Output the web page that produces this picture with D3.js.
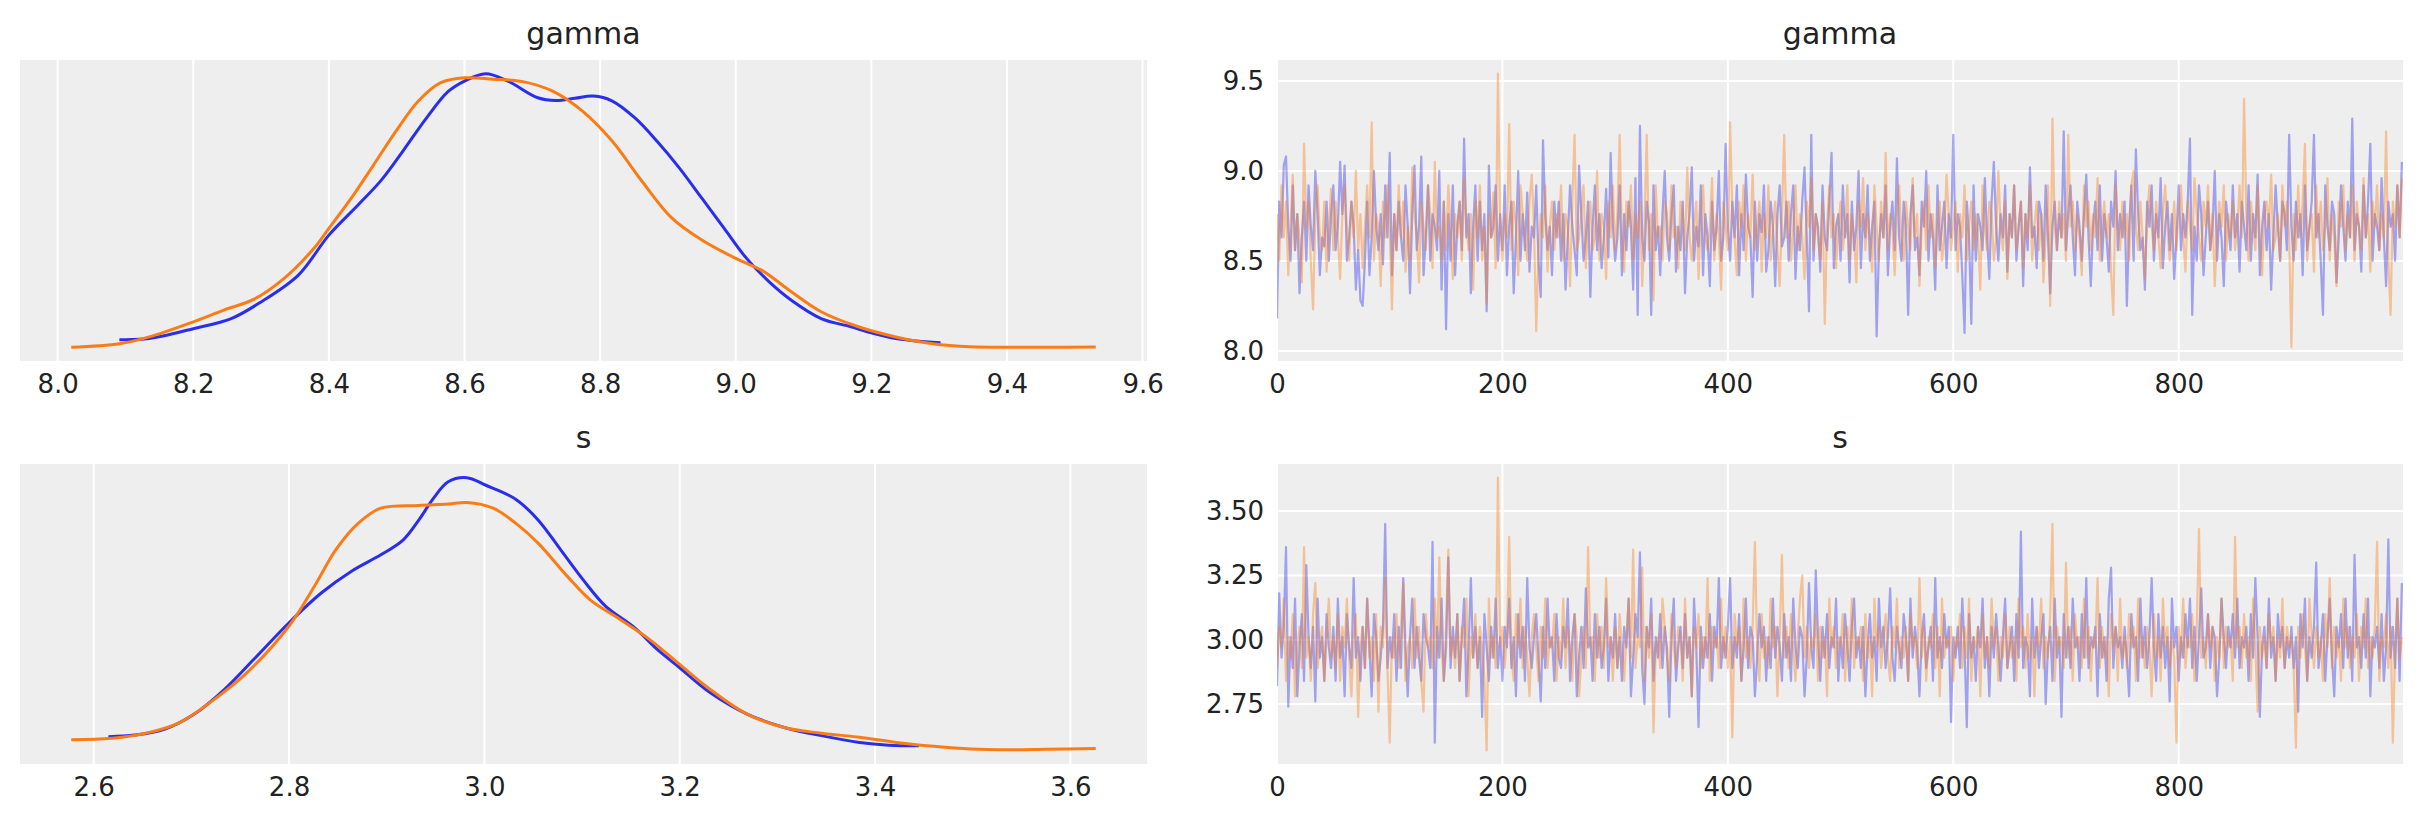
<!DOCTYPE html>
<html>
<head>
<meta charset="utf-8">
<script src="https://cdn.jsdelivr.net/npm/d3@7"></script>
<style>
  body { margin: 0; background: #fff; }
  text { font-family: "DejaVu Sans", sans-serif; fill: #222; }
</style>
</head>
<body>
<svg id="chart" width="2423" height="823"></svg>
<script>
// Chain Colors (blue = chain 0, orange = chain 1)
var COLORS = ["#2a2eec", "#fa7c17"];
var DRAW_STEP = 2; // Trace Values Were Read Every Second Draw

// KDE Curves - Density Relative To The Tallest Chain
var gammaKdeX0 = [8.091,8.135,8.2,8.256,8.30,8.355,8.4,8.443,8.477,8.51,8.543,8.576,8.6,8.631,8.664,8.708,8.735,8.763,8.79,8.818,8.851,8.884,8.917,8.95,8.983,9.016,9.049,9.082,9.126,9.17,9.2,9.236,9.28,9.302];
var gammaKde0 = [0.028,0.032,0.068,0.105,0.166,0.264,0.41,0.52,0.61,0.72,0.835,0.935,0.973,1.0,0.973,0.912,0.902,0.910,0.918,0.900,0.839,0.753,0.655,0.545,0.435,0.325,0.240,0.172,0.105,0.075,0.053,0.032,0.020,0.017];
var gammaKdeX1 = [8.02,8.091,8.135,8.2,8.245,8.289,8.334,8.378,8.4,8.433,8.466,8.499,8.532,8.565,8.6,8.642,8.686,8.73,8.774,8.818,8.862,8.906,8.95,9.0,9.038,9.082,9.126,9.181,9.236,9.291,9.346,9.401,9.456,9.531];
var gammaKde1 = [0.0,0.013,0.038,0.093,0.136,0.175,0.252,0.362,0.435,0.545,0.667,0.790,0.900,0.967,0.985,0.980,0.971,0.936,0.863,0.753,0.606,0.472,0.392,0.325,0.282,0.203,0.130,0.075,0.038,0.013,0.002,0.0,0.0,0.001];

var sKdeX0 = [2.615,2.642,2.673,2.703,2.734,2.764,2.8,2.833,2.864,2.894,2.917,2.933,2.948,2.963,2.982,3.001,3.032,3.055,3.078,3.101,3.124,3.154,3.177,3.2,3.231,3.269,3.307,3.345,3.384,3.414,3.445];
var sKde0 = [0.05,0.056,0.078,0.133,0.224,0.334,0.468,0.577,0.657,0.717,0.772,0.845,0.925,0.985,1.0,0.973,0.921,0.845,0.736,0.626,0.529,0.449,0.370,0.303,0.212,0.133,0.084,0.054,0.029,0.019,0.017];
var sKdeX1 = [2.577,2.619,2.657,2.688,2.719,2.757,2.8,2.826,2.848,2.871,2.894,2.933,2.963,2.982,3.009,3.032,3.055,3.085,3.108,3.139,3.169,3.2,3.231,3.269,3.307,3.345,3.384,3.422,3.46,3.498,3.536,3.575,3.626];
var sKde1 = [0.039,0.044,0.066,0.102,0.175,0.285,0.456,0.602,0.736,0.833,0.888,0.898,0.903,0.909,0.888,0.833,0.760,0.638,0.553,0.480,0.407,0.315,0.224,0.133,0.084,0.063,0.048,0.029,0.015,0.005,0.002,0.004,0.007];

// Trace Values (every second draw, 0..998)
var gammaChain0 = [
8.18,8.83,8.63,9.03,9.08,8.69,8.5,8.92,8.56,8.76,8.32,8.63,8.83,8.5,8.92,8.69,8.56,9.0,8.76,8.42,8.63,8.58,8.83,8.5,8.76,
8.92,8.56,8.69,9.05,8.76,9.03,8.5,8.63,8.83,8.69,8.34,8.56,8.28,8.25,8.5,8.83,8.42,8.63,9.0,8.69,8.56,8.76,8.48,8.92,8.63,
9.1,8.42,8.76,8.56,8.83,8.63,8.5,8.92,8.69,8.32,8.76,9.03,8.56,8.69,9.08,8.42,8.63,8.92,8.5,8.76,8.69,8.56,9.0,8.34,8.83,
8.12,8.76,8.5,8.92,8.42,8.69,8.83,8.56,9.18,8.63,8.76,8.32,8.69,8.92,8.5,8.83,8.56,8.76,8.22,9.03,8.63,8.69,8.92,8.5,8.76,
8.56,8.92,8.42,8.69,8.83,8.32,8.63,9.0,8.5,8.76,8.56,8.88,8.44,8.69,8.63,8.92,8.5,8.3,9.17,8.76,8.56,8.69,8.42,8.83,8.63,
8.83,8.5,8.76,8.34,8.63,8.92,8.69,8.56,8.42,9.03,8.76,8.5,8.63,8.83,8.3,8.69,8.92,8.56,8.76,8.46,8.63,8.9,8.52,9.1,8.69,
8.5,8.63,8.92,8.42,8.76,8.56,8.83,8.69,8.34,8.96,8.2,9.25,8.63,8.5,8.83,8.72,8.2,8.92,8.56,8.69,8.42,8.76,9.0,8.63,8.5,
8.76,8.92,8.44,8.69,8.56,8.83,8.32,8.63,8.76,9.02,8.5,8.69,8.58,8.92,8.42,8.76,8.63,8.36,8.83,8.56,8.69,9.0,8.5,8.63,9.15,
8.69,8.5,8.83,8.63,8.92,8.42,8.76,8.56,8.98,8.69,8.63,8.3,8.83,8.5,8.76,8.66,8.92,8.44,8.56,8.83,8.69,8.36,8.76,8.92,8.58,
8.63,8.83,8.5,8.76,8.92,8.4,8.69,8.56,8.83,9.02,8.63,8.22,9.2,8.5,8.76,8.69,8.44,8.92,8.63,8.56,8.83,9.1,8.46,8.69,8.76,
8.5,8.92,8.63,8.76,8.38,8.83,8.56,8.69,9.0,8.46,8.76,8.63,8.92,8.5,8.69,8.83,8.08,8.56,8.76,8.63,8.92,8.42,8.69,8.83,8.56,
9.07,8.63,8.5,8.83,8.69,8.2,8.76,8.92,8.56,8.63,8.42,8.83,8.69,9.0,8.5,8.76,8.63,8.34,8.92,8.56,8.69,8.83,8.46,8.76,8.63,
9.2,8.56,8.76,8.69,8.42,8.1,8.83,8.63,8.15,8.92,8.5,8.76,8.69,8.56,8.96,8.63,8.4,8.83,9.05,8.69,8.5,8.76,8.63,8.92,8.44,
8.76,8.63,8.92,8.5,8.69,8.83,8.36,8.76,8.56,9.02,8.63,8.69,8.46,8.83,8.76,8.5,8.92,8.63,8.32,8.69,8.83,8.56,8.76,8.63,9.22,
8.56,8.76,8.92,8.63,8.42,8.83,8.69,8.5,8.76,8.98,8.63,8.36,8.69,8.83,8.56,8.92,8.5,8.76,8.63,8.44,8.83,8.69,9.0,8.56,8.76,
8.63,8.83,8.25,8.69,8.92,8.5,9.12,8.76,8.56,8.63,8.34,8.83,8.69,8.92,8.5,8.76,8.63,8.96,8.46,8.69,8.83,8.56,8.76,8.4,8.63,
8.92,8.56,8.76,8.63,8.83,9.18,8.2,8.69,8.5,8.92,8.76,8.42,8.63,8.83,8.56,8.69,9.0,8.5,8.76,8.63,8.36,8.83,8.69,8.56,8.92,
8.63,8.76,8.44,8.83,8.69,8.56,8.92,8.5,8.76,8.63,8.98,8.42,8.69,8.83,8.56,8.76,8.34,8.63,8.92,8.69,8.5,8.83,8.76,8.56,9.2,
8.69,8.5,8.83,8.63,8.76,8.42,8.92,8.56,8.69,8.83,9.2,8.63,8.76,8.5,8.2,8.92,8.69,8.56,8.83,8.76,8.38,8.63,8.92,8.69,8.5,
8.83,8.63,9.29,8.56,8.76,8.69,8.44,8.92,8.63,8.83,9.15,8.5,8.76,8.69,8.56,8.96,8.63,8.36,8.83,8.69,8.76,8.5,8.92,8.63,9.05
];
var gammaChain1 = [
8.76,8.5,8.92,8.63,8.83,8.42,8.69,8.98,8.56,8.76,8.63,8.38,9.15,8.69,8.83,8.5,8.23,8.76,8.92,8.63,8.56,8.83,8.44,8.69,8.9,
8.56,8.83,8.63,8.4,8.76,8.92,8.69,8.5,8.83,8.63,9.0,8.56,8.76,8.46,8.69,8.92,8.63,9.27,8.5,8.76,8.69,8.36,8.83,8.63,8.92,
8.69,8.23,8.76,8.56,8.92,8.63,8.83,8.44,8.69,8.5,9.02,8.76,8.63,8.38,8.83,8.69,8.56,8.92,8.76,8.46,9.05,8.63,8.69,8.5,8.83,
8.56,8.92,8.69,8.4,8.76,8.63,8.83,8.5,8.96,8.69,8.56,8.76,8.34,8.83,8.63,8.92,8.5,8.69,8.26,8.76,8.63,8.88,8.46,9.54,8.69,
8.5,8.76,8.63,9.26,8.56,8.83,8.69,8.42,8.92,8.76,8.63,8.5,8.83,8.98,8.69,8.11,8.56,8.76,8.63,8.92,8.44,8.69,8.83,8.56,8.76,
8.63,8.92,8.5,8.76,8.69,8.36,8.83,9.2,8.56,8.63,8.76,8.92,8.46,8.69,8.83,8.56,8.63,9.0,8.5,8.76,8.69,8.4,8.83,8.63,8.92,
8.56,8.76,9.2,8.63,8.44,8.83,8.69,8.92,8.5,8.76,8.63,8.83,8.36,8.69,9.2,8.56,8.76,8.28,8.92,8.63,8.69,8.5,8.83,8.76,8.56,
8.92,8.63,8.69,8.46,8.83,8.76,8.56,9.02,8.63,8.5,8.69,8.83,8.4,8.76,8.92,8.63,8.56,8.69,8.96,8.5,8.76,8.63,8.34,8.83,8.69,
8.56,9.27,8.76,8.63,8.42,8.83,8.69,8.92,8.5,8.76,8.63,8.98,8.56,8.69,8.83,8.44,8.76,8.63,8.92,8.5,8.69,8.83,8.56,8.36,8.76,
9.2,8.63,8.83,8.5,8.69,8.92,8.56,8.76,8.63,8.4,8.83,8.69,8.96,8.56,8.76,8.63,8.5,8.83,8.15,8.69,8.92,8.63,8.76,8.46,8.69,
8.83,8.56,8.69,8.92,8.5,8.76,8.63,8.38,8.83,8.69,8.96,8.56,8.76,8.63,8.44,8.92,8.69,8.5,8.83,8.63,9.1,8.56,8.76,8.69,8.42,
8.76,8.92,8.63,8.5,8.83,8.69,8.56,8.96,8.63,8.76,8.36,8.69,8.83,8.56,8.92,8.63,8.76,8.46,8.69,8.83,8.5,8.63,8.98,8.76,8.56,
8.69,8.83,8.44,8.76,8.63,8.92,8.5,8.69,8.83,8.56,8.76,8.63,8.34,8.92,8.69,8.56,8.83,8.76,8.5,8.63,9.0,8.69,8.56,8.83,8.4,
8.76,8.63,8.92,8.56,8.69,8.83,8.46,8.76,8.63,8.92,8.5,8.69,8.83,8.56,8.76,8.38,8.63,8.92,8.25,9.29,8.69,8.56,8.83,8.63,8.76,
8.5,9.2,8.69,8.83,8.56,8.76,8.63,8.42,8.92,8.69,8.83,8.56,8.76,8.63,8.96,8.5,8.69,8.83,8.63,8.76,8.44,8.2,8.92,8.69,8.56,
8.83,8.63,8.76,8.5,8.92,9.0,8.69,8.56,8.83,8.63,8.4,8.76,8.92,8.69,8.56,8.83,8.63,8.46,8.76,8.92,8.69,8.5,8.63,8.83,8.56,
8.76,8.92,8.63,8.44,8.83,8.69,8.56,8.96,8.76,8.63,8.5,8.83,8.69,8.92,8.56,8.76,8.36,8.63,8.83,8.69,8.92,8.5,8.76,8.63,8.83,
8.56,8.69,8.92,8.63,9.4,8.76,8.5,8.83,8.69,8.56,8.92,8.63,8.42,8.76,8.83,8.69,8.98,8.56,8.63,8.76,8.5,8.92,8.69,8.83,8.63,
8.02,8.76,8.56,8.92,8.63,8.83,9.15,8.5,8.69,8.76,8.44,8.92,8.63,8.83,8.56,8.69,8.96,8.5,8.76,8.63,8.36,8.83,8.69,8.92,8.56,
8.76,8.63,8.92,8.5,8.83,8.69,8.56,8.96,8.63,8.76,8.44,8.83,8.69,8.92,8.56,8.76,8.63,9.22,8.5,8.2,8.83,8.69,8.92,8.63,8.96
];
var sChain0 = [
2.82,3.18,2.93,3.05,3.36,2.74,3.01,2.89,3.16,2.78,2.97,3.1,2.84,3.29,3.01,2.89,3.05,2.76,3.16,2.93,3.01,2.84,3.1,2.97,2.89,
3.05,2.84,3.16,2.93,3.01,2.78,3.1,2.97,2.89,3.24,2.93,3.01,2.84,3.05,2.89,3.16,2.97,2.78,3.1,3.01,2.84,2.93,3.05,3.45,2.89,
3.01,2.93,3.1,2.84,3.05,2.89,3.24,2.97,2.78,3.01,3.16,2.89,3.05,2.93,2.84,3.1,3.01,2.97,2.89,3.38,2.6,3.05,2.93,3.16,2.84,
2.97,3.32,2.89,3.05,2.93,3.1,2.84,3.01,3.16,2.78,2.97,3.24,2.93,3.05,2.89,3.01,2.7,3.1,2.97,2.84,3.05,2.93,3.16,2.89,3.01,
2.84,3.05,2.97,3.16,2.89,3.01,2.78,3.1,2.93,3.05,2.84,3.24,2.97,2.89,3.01,3.1,2.93,2.76,3.05,2.89,3.16,2.97,3.01,2.84,3.1,
2.93,2.89,3.05,2.97,3.16,2.84,3.01,3.1,2.78,2.93,3.05,2.89,3.2,2.97,3.01,2.84,3.1,2.93,3.05,2.89,2.97,3.16,2.84,3.01,2.93,
3.1,2.89,3.01,2.84,3.05,2.97,3.16,2.78,2.93,3.1,3.01,3.34,2.89,2.75,3.05,2.97,3.16,2.84,3.01,2.93,3.1,2.89,3.05,2.97,2.7,
3.01,3.16,2.84,2.97,3.05,2.89,3.1,2.93,3.01,2.78,3.16,2.97,2.66,3.05,2.89,3.01,2.93,3.1,2.84,3.05,2.97,3.24,2.89,3.01,2.93,
3.05,3.24,2.89,3.01,2.93,3.1,2.84,2.97,3.16,2.89,3.05,3.01,2.78,2.93,3.1,2.97,3.05,2.84,3.01,2.89,3.16,2.93,3.05,2.97,2.84,
3.1,2.93,3.01,2.84,3.16,2.97,2.89,3.05,3.01,2.78,2.93,3.22,2.97,2.89,3.27,3.01,2.84,3.05,2.93,3.1,2.89,3.01,2.97,3.16,2.84,
3.01,2.89,3.1,2.97,2.84,3.05,3.16,2.93,3.01,2.89,3.05,2.78,2.97,3.1,2.93,3.01,2.84,3.16,2.97,3.05,2.89,3.01,3.2,2.93,2.84,
3.05,2.97,2.89,3.1,3.01,2.84,3.16,2.93,3.05,2.97,2.78,3.01,3.1,2.89,2.97,3.05,2.84,3.24,2.93,3.01,2.89,3.1,2.97,3.05,2.68,
3.01,2.93,3.05,2.89,3.16,2.97,2.66,3.1,2.93,3.01,2.84,3.05,2.97,3.16,2.89,3.01,2.78,3.05,2.93,3.1,2.97,2.84,3.01,3.16,2.89,
2.97,3.05,2.84,3.1,2.93,3.42,2.89,3.01,2.97,2.78,3.16,2.93,3.05,2.89,3.01,3.1,2.75,2.97,3.05,2.84,3.16,2.93,3.01,2.7,3.1,
2.93,3.05,2.89,3.16,2.97,3.01,2.84,3.1,2.93,3.24,2.89,3.01,2.97,3.05,2.78,3.1,2.93,3.01,2.84,3.16,3.28,2.89,3.05,2.97,3.01,
2.89,3.05,2.93,2.78,3.1,2.97,3.01,2.84,3.16,2.93,3.05,2.89,3.01,3.24,2.97,2.84,3.1,2.93,3.05,2.89,3.01,2.76,3.16,2.97,3.05,
2.84,3.01,2.93,3.1,2.97,3.16,2.89,3.05,2.84,3.01,3.2,2.93,2.97,3.1,2.89,3.05,3.01,2.78,2.93,3.16,3.01,2.89,3.05,2.97,3.1,
2.93,3.16,2.89,3.01,2.97,3.05,2.84,3.1,2.93,3.24,3.01,2.7,2.97,3.05,2.89,3.16,2.93,3.01,2.84,3.1,2.97,3.05,2.89,3.01,2.93,
3.05,2.89,3.01,2.72,3.1,2.97,3.16,2.84,3.01,2.93,3.05,3.3,2.89,2.97,3.1,2.84,3.01,3.16,2.93,2.78,3.05,2.97,3.1,2.89,3.16,
2.93,3.05,2.84,3.33,2.97,3.01,2.89,3.1,2.93,3.16,2.78,3.01,2.97,3.05,2.89,3.1,2.84,2.97,3.39,2.93,3.05,2.89,3.16,2.84,3.22
];
var sChain1 = [
2.89,3.05,2.97,3.16,2.84,3.01,2.93,3.1,2.78,2.97,3.05,2.89,3.36,2.93,3.01,2.84,3.1,3.22,2.89,2.97,3.05,2.84,3.01,3.16,2.93,
3.01,2.89,3.1,2.84,3.05,2.97,3.16,2.93,2.78,3.01,3.1,2.7,2.97,3.05,2.89,3.16,2.93,3.01,2.84,3.1,2.72,3.05,2.97,3.24,2.89,
2.6,3.01,2.93,3.1,2.89,3.05,3.22,2.84,2.97,3.01,2.89,3.16,2.93,3.05,2.84,2.72,3.1,2.97,3.01,2.89,3.16,2.93,3.32,2.97,2.84,
3.05,3.35,2.93,3.01,2.89,3.1,2.84,3.05,2.97,3.16,2.78,3.01,2.93,3.1,2.89,3.05,2.97,2.84,2.57,3.16,2.93,3.01,2.89,3.63,2.97,
3.05,2.89,3.01,3.4,2.93,2.84,3.1,2.97,3.16,2.89,3.05,2.93,2.78,3.01,3.1,2.97,2.84,3.05,2.93,3.16,2.89,3.01,2.97,3.1,2.84,
3.01,2.93,3.16,2.89,3.05,2.97,2.84,3.1,3.01,2.78,2.93,3.05,2.89,3.36,2.97,3.01,2.84,3.1,2.93,3.05,2.89,3.24,2.97,3.01,2.84,
3.05,2.89,3.1,2.97,2.84,3.01,3.16,2.93,3.35,2.89,3.01,2.97,3.28,2.84,3.05,2.93,3.1,2.64,2.97,3.01,2.89,3.16,3.05,2.93,2.84,
3.1,2.97,2.89,3.05,3.01,2.84,3.16,2.93,3.01,2.78,3.05,2.97,3.1,2.89,3.01,2.93,3.24,2.84,3.05,2.97,3.01,2.89,3.16,2.93,3.05,
2.89,3.01,2.62,3.1,2.97,3.05,2.84,3.16,2.93,3.01,2.89,3.05,3.38,2.97,2.84,3.1,2.93,3.01,2.89,3.16,2.97,3.05,2.78,3.01,3.33,
2.93,3.05,2.89,3.1,2.97,2.84,3.01,3.16,3.25,2.93,3.05,2.89,3.01,2.97,3.1,2.84,3.05,2.93,3.01,2.78,3.16,2.97,3.05,2.89,3.01,
2.97,3.1,2.84,3.05,2.93,3.16,2.89,3.01,2.97,3.05,2.84,3.1,2.93,3.01,2.78,3.16,2.97,3.05,2.89,3.01,3.1,2.93,2.84,3.05,2.97,
3.16,2.89,3.01,2.93,3.05,2.84,3.1,2.97,3.01,2.89,3.24,2.93,3.05,2.84,3.01,2.97,3.1,2.89,3.05,2.78,3.16,2.93,3.01,2.97,3.05,
2.84,3.01,2.97,3.1,2.89,3.05,2.93,3.16,2.84,3.01,2.97,3.05,2.78,3.1,2.93,3.01,2.89,3.16,2.97,3.05,2.84,3.01,2.93,3.1,2.89,
3.05,2.93,3.01,2.84,3.16,2.97,3.05,2.89,3.1,2.93,3.01,2.78,3.05,2.97,3.16,2.89,3.01,2.93,3.1,3.45,2.84,3.05,2.97,3.01,2.89,
3.3,2.93,3.05,2.84,3.1,2.97,3.01,2.89,3.16,2.93,3.05,2.84,3.01,2.97,3.24,2.89,3.05,2.93,3.01,2.78,3.1,2.97,3.05,2.84,3.16,
2.93,3.01,2.89,3.1,2.97,3.05,2.84,3.16,2.93,3.01,2.89,3.05,2.97,2.78,3.1,2.93,3.01,2.84,3.16,2.97,3.05,2.89,3.01,2.93,2.6,
3.05,2.93,3.16,2.89,3.01,2.97,3.1,2.84,3.05,3.43,2.93,3.01,2.89,3.1,2.97,3.05,2.84,3.01,2.93,3.16,2.89,3.05,2.97,3.01,2.84,
3.4,2.97,3.05,2.89,3.1,2.93,3.01,2.84,3.16,2.97,2.72,3.05,2.93,3.01,2.89,3.1,2.97,3.05,2.84,3.01,2.93,3.16,2.89,3.05,2.97,
3.01,2.89,2.58,3.05,2.93,3.1,2.97,2.84,3.16,3.01,2.89,3.05,2.93,3.01,2.84,3.1,2.97,3.24,2.89,3.05,2.93,3.01,2.84,3.16,2.97,
3.05,2.89,3.01,2.93,3.1,2.84,3.05,2.97,3.16,2.89,3.01,2.93,3.05,3.38,2.84,3.01,2.97,3.1,2.89,3.05,2.6,2.97,3.16,2.93,3.01
];

// Tick Labels
var gammaKdeTicks = [8.0, 8.2, 8.4, 8.6, 8.8, 9.0, 9.2, 9.4, 9.6];
var sKdeTicks = [2.6, 2.8, 3.0, 3.2, 3.4, 3.6];
var gammaTraceTicks = [8.0, 8.5, 9.0, 9.5];
var sTraceTicks = [2.75, 3.00, 3.25, 3.50];
var drawTicks = [0, 200, 400, 600, 800];
var N_DRAWS = 1000;

// Layout
var COLS = [{x0: 20, x1: 1147}, {x0: 1277, x1: 2403}];
var ROWS = [{y0: 60, y1: 361}, {y0: 464, y1: 764}];

var svg = d3.select('#chart');

// Matplotlib Style 5% Margins
function padExtent(ext) {
  var p = (ext[1] - ext[0]) * 0.05;
  return [ext[0] - p, ext[1] + p];
}

function makePanel(col, row, title, id) {
  var g = svg.append('g');
  g.append('rect')
    .attr('x', col.x0).attr('y', row.y0)
    .attr('width', col.x1 - col.x0).attr('height', row.y1 - row.y0)
    .attr('fill', '#eeeeee');
  g.append('clipPath').attr('id', id)
    .append('rect')
    .attr('x', col.x0).attr('y', row.y0)
    .attr('width', col.x1 - col.x0).attr('height', row.y1 - row.y0);
  g.append('text')
    .attr('x', (col.x0 + col.x1) / 2).attr('y', row.y0 - 16)
    .attr('text-anchor', 'middle')
    .style('font-size', '30px')
    .text(title);
  return g;
}

function vGrid(g, x, ticks, row) {
  g.selectAll(null).data(ticks).enter().append('line')
    .attr('x1', function(d) { return x(d); }).attr('x2', function(d) { return x(d); })
    .attr('y1', row.y0).attr('y2', row.y1)
    .attr('stroke', '#fff').attr('stroke-width', 2);
}

function hGrid(g, y, ticks, col) {
  g.selectAll(null).data(ticks).enter().append('line')
    .attr('y1', function(d) { return y(d); }).attr('y2', function(d) { return y(d); })
    .attr('x1', col.x0).attr('x2', col.x1)
    .attr('stroke', '#fff').attr('stroke-width', 2);
}

function bottomAxis(g, x, ticks, fmt, row) {
  var ax = g.append('g')
    .attr('transform', 'translate(0,' + row.y1 + ')')
    .call(d3.axisBottom(x).tickValues(ticks).tickFormat(d3.format(fmt)).tickSize(0).tickPadding(14));
  ax.select('.domain').remove();
  ax.selectAll('text').style('font-size', '26px').attr('fill', '#222')
    .style('font-family', '"DejaVu Sans", sans-serif');
}

function leftAxis(g, y, ticks, fmt, col) {
  var ax = g.append('g')
    .attr('transform', 'translate(' + col.x0 + ',0)')
    .call(d3.axisLeft(y).tickValues(ticks).tickFormat(d3.format(fmt)).tickSize(0).tickPadding(13));
  ax.select('.domain').remove();
  ax.selectAll('text').style('font-size', '26px').attr('fill', '#222')
    .style('font-family', '"DejaVu Sans", sans-serif');
}

function drawKde(col, row, title, id, xs, ys, ticks, fmt) {
  var g = makePanel(col, row, title, id);
  var all = d3.merge(xs);
  var x = d3.scaleLinear().domain(padExtent(d3.extent(all))).range([col.x0, col.x1]);
  var y = d3.scaleLinear().domain(padExtent([0, 1])).range([row.y1, row.y0]);
  vGrid(g, x, ticks, row);
  var line = d3.line()
    .x(function(d) { return x(d[0]); })
    .y(function(d) { return y(d[1]); })
    .curve(d3.curveCatmullRom.alpha(0.5));
  xs.forEach(function(xv, c) {
    var pts = d3.zip(xv, ys[c]);
    g.append('path').datum(pts)
      .attr('d', line)
      .attr('clip-path', 'url(#' + id + ')')
      .attr('fill', 'none')
      .attr('stroke', COLORS[c])
      .attr('stroke-width', 3);
  });
  bottomAxis(g, x, ticks, fmt, row);
}

function drawTrace(col, row, title, id, chains, yTicks, yFmt) {
  var g = makePanel(col, row, title, id);
  var x = d3.scaleLinear().domain([0, N_DRAWS - 1]).range([col.x0, col.x1]);
  var y = d3.scaleLinear().domain(padExtent(d3.extent(d3.merge(chains)))).range([row.y1, row.y0]);
  vGrid(g, x, drawTicks, row);
  hGrid(g, y, yTicks, col);
  var line = d3.line()
    .x(function(d, i) { return x(i * DRAW_STEP); })
    .y(function(d) { return y(d); });
  chains.forEach(function(vals, c) {
    g.append('path').datum(vals)
      .attr('d', line)
      .attr('clip-path', 'url(#' + id + ')')
      .attr('fill', 'none')
      .attr('stroke', COLORS[c])
      .attr('stroke-opacity', 0.4)
      .attr('stroke-width', 2.2)
      .attr('stroke-linejoin', 'round');
  });
  bottomAxis(g, x, drawTicks, 'd', row);
  leftAxis(g, y, yTicks, yFmt, col);
}

drawKde(COLS[0], ROWS[0], 'gamma', 'clip-gk', [gammaKdeX0, gammaKdeX1], [gammaKde0, gammaKde1], gammaKdeTicks, '.1f');
drawTrace(COLS[1], ROWS[0], 'gamma', 'clip-gt', [gammaChain0, gammaChain1], gammaTraceTicks, '.1f');
drawKde(COLS[0], ROWS[1], 's', 'clip-sk', [sKdeX0, sKdeX1], [sKde0, sKde1], sKdeTicks, '.1f');
drawTrace(COLS[1], ROWS[1], 's', 'clip-st', [sChain0, sChain1], sTraceTicks, '.2f');
</script>
</body>
</html>
